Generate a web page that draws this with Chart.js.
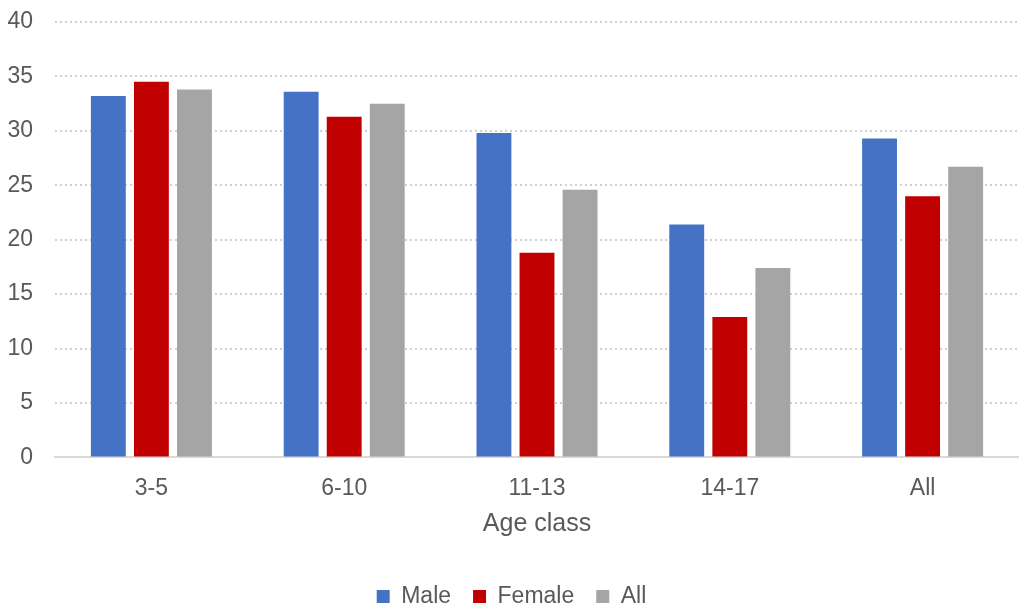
<!DOCTYPE html>
<html>
<head>
<meta charset="utf-8">
<script src="https://cdn.jsdelivr.net/npm/chart.js@4"></script>
<style>
  html, body { margin: 0; padding: 0; background: #fff; }
  #wrap { width: 1019px; height: 606px; position: relative; }
</style>
</head>
<body>
<div id="wrap"><canvas id="chart"></canvas></div>
<script>
// categories and series
const ageClasses = ["3-5", "6-10", "11-13", "14-17", "All"];
const maleValues = [33.2, 33.6, 29.8, 21.4, 29.3];
const femaleValues = [34.5, 31.3, 18.8, 12.9, 24.0];
const allValues = [33.8, 32.5, 24.6, 17.4, 26.7];
const yTicks = [0, 5, 10, 15, 20, 25, 30, 35, 40];

const fontFamily = "Arial, 'Liberation Sans', sans-serif";
const textColor = "#595959";

function bar(label, data, color) {
  return {
    label,
    data,
    backgroundColor: color,
    borderWidth: 0,
    barPercentage: 0.81,
    categoryPercentage: 0.67
  };
}

// push the legend row down toward the bottom edge
const legendShift = {
  id: "legendShift",
  afterLayout(chart) {
    chart.legend.top += 12;
    chart.legend.bottom += 12;
  }
};

new Chart(document.getElementById("chart"), {
  type: "bar",
  data: {
    labels: ageClasses,
    datasets: [
      bar("Male", maleValues, "#4472c4"),
      bar("Female", femaleValues, "#c00000"),
      bar("All", allValues, "#a5a5a5")
    ]
  },
  plugins: [legendShift],
  options: {
    responsive: true,
    maintainAspectRatio: false,
    animation: false,
    layout: { padding: { top: 0, right: 0, left: 4, bottom: 0 } },
    plugins: {
      tooltip: { enabled: false },
      legend: {
        position: "bottom",
        labels: {
          color: textColor,
          font: { family: fontFamily, size: 23 },
          boxWidth: 13,
          boxHeight: 13,
          padding: 22
        }
      }
    },
    scales: {
      x: {
        grid: { display: false, drawTicks: false },
        border: { color: "#d9d9d9", width: 2 },
        ticks: {
          color: textColor,
          font: { family: fontFamily, size: 23 },
          padding: 17
        },
        title: {
          display: true,
          text: "Age class",
          color: textColor,
          font: { family: fontFamily, size: 25 },
          padding: { top: -10, bottom: 12 }
        }
      },
      y: {
        min: 0,
        max: 40,
        afterBuildTicks: axis => {
          axis.ticks = yTicks.map(v => ({ value: v }));
        },
        afterFit: axis => {
          axis.width = 51;
          axis.paddingTop = 22;
        },
        grid: {
          color: "#d0d0d0",
          lineWidth: 2,
          drawTicks: false
        },
        border: { display: false, dash: [2, 3] },
        ticks: {
          color: textColor,
          font: { family: fontFamily, size: 23 },
          padding: 22
        }
      }
    }
  }
});
</script>
</body>
</html>
